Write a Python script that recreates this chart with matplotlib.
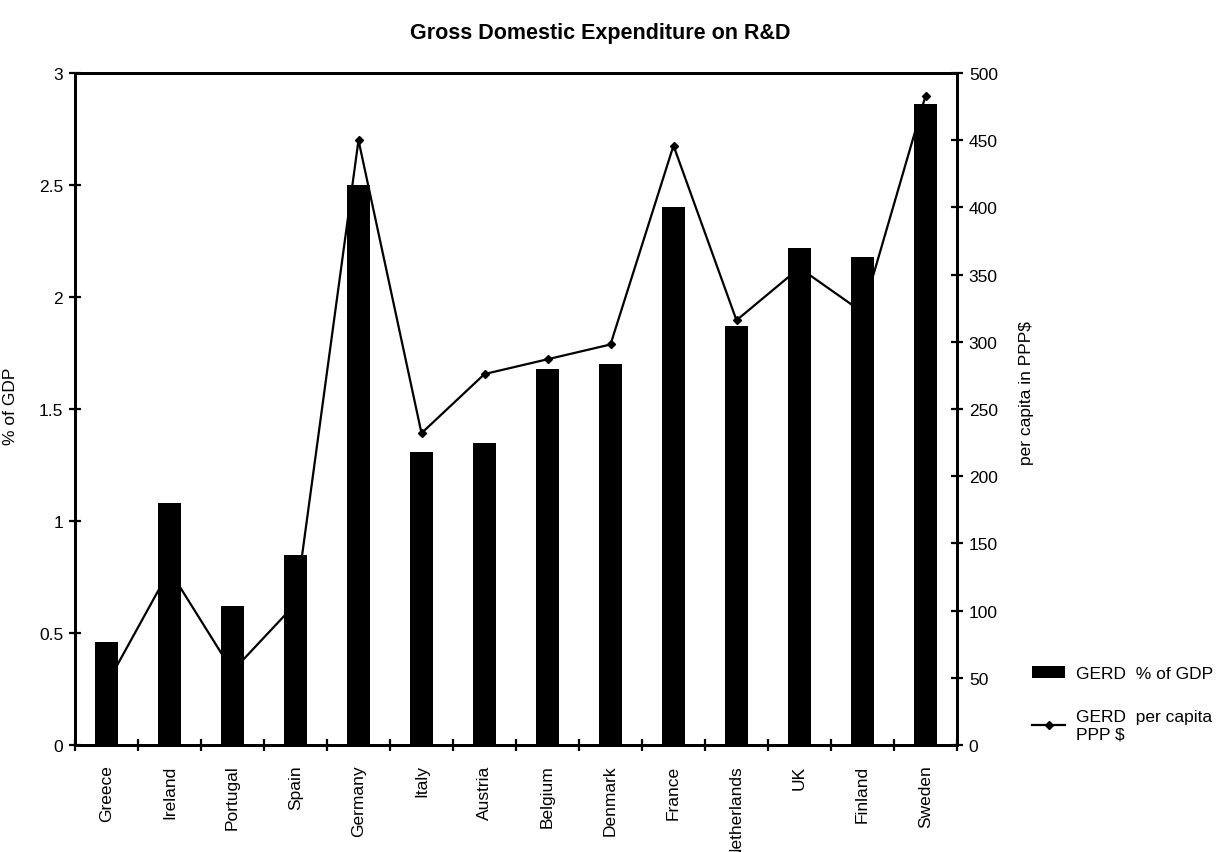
import numpy as np
import matplotlib
matplotlib.use("Agg")
import matplotlib.pyplot as plt

plt.rcParams['font.family'] = ['Liberation Sans', 'DejaVu Sans']

countries = ["Greece", "Ireland", "Portugal", "Spain", "Germany", "Italy", "Austria",
             "Belgium", "Denmark", "France", "Netherlands", "UK", "Finland", "Sweden"]
gerd_pct_gdp = [0.46, 1.08, 0.62, 0.85, 2.50, 1.31, 1.35, 1.68, 1.70, 2.40, 1.87, 2.22, 2.18, 2.86]
gerd_per_capita = [45, 130, 55, 105, 450, 232, 276, 287, 298, 446, 316, 355, 322, 483]

fig = plt.figure(figsize=(12.27, 8.53), dpi=100)
ax = fig.add_axes([75 / 1227, 1 - 746 / 853, (957 - 75) / 1227, (746 - 74) / 853])
ax2 = ax.twinx()

x = np.arange(len(countries))
bars = ax.bar(x, gerd_pct_gdp, width=0.38, color="black", zorder=3)
line, = ax2.plot(x, gerd_per_capita, color="black", lw=1.6, marker="D", ms=4)

# bars drawn on top of the line
ax.set_zorder(ax2.get_zorder() + 1)
ax.patch.set_visible(False)

ax.set_xlim(-0.5, len(countries) - 0.5)
ax.set_ylim(0, 3)
ax2.set_ylim(0, 500)
ax.set_yticks([0, 0.5, 1, 1.5, 2, 2.5, 3])
ax.set_yticklabels(["0", "0.5", "1", "1.5", "2", "2.5", "3"])
ax2.set_yticks(range(0, 501, 50))

ax.set_xticks(x)
ax.set_xticklabels(countries, rotation=90, fontsize=12.5)
ax.set_xticks(np.arange(-0.5, len(countries)), minor=True)
ax.tick_params(axis="x", which="major", length=0, pad=14)
ax.tick_params(axis="x", which="minor", direction="inout", length=9, width=1.6)
ax.tick_params(axis="y", direction="inout", length=9, width=1.6, labelsize=12.5, pad=4)
ax2.tick_params(axis="y", direction="inout", length=9, width=1.6, labelsize=12.5, pad=4)

for a in (ax, ax2):
    for s in a.spines.values():
        s.set_linewidth(2)

ax.set_ylabel("% of GDP", fontsize=12.5)
ax.yaxis.set_label_coords(-0.065, 0.505)
ax2.set_ylabel("per capita in PPP$", fontsize=12.5)
ax2.yaxis.set_label_coords(1.07, 0.525)

fig.text(600 / 1227, 1 - 34 / 853, "Gross Domestic Expenditure on R&D",
         ha="center", va="center", fontsize=15.5, fontweight="bold")

fig.legend([bars, line], ["GERD  % of GDP", "GERD  per capita\nPPP $"],
           loc="upper left", bbox_to_anchor=(1020 / 1227, 1 - 655 / 853),
           frameon=False, fontsize=12.5, handlelength=1.9, handletextpad=0.6,
           labelspacing=1.6, borderpad=0.2)

fig.savefig("out.png", dpi=100)
